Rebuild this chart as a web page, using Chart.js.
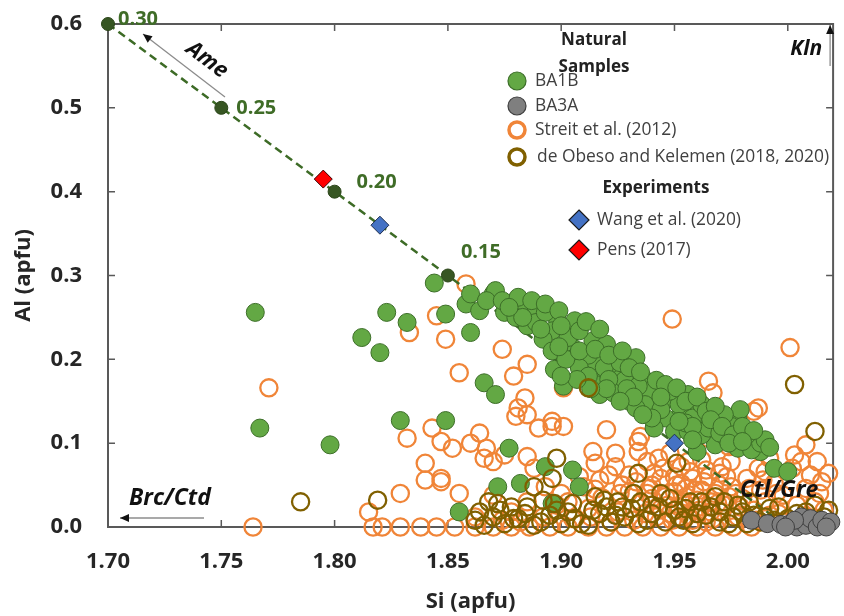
<!DOCTYPE html>
<html>
<head>
<meta charset="utf-8">
<script src="https://cdn.jsdelivr.net/npm/chart.js@4"></script>
<style>
    html, body { margin: 0; padding: 0; background: #fff; }
    #wrap { width: 844px; height: 616px; }
</style>
</head>
<body>
<div id="wrap"><canvas id="alChart" width="844" height="616"></canvas></div>
<script>
// Axis ticks
const xTicks = [1.70, 1.75, 1.80, 1.85, 1.90, 1.95, 2.00];
const yTicks = [0, 0.1, 0.2, 0.3, 0.4, 0.5, 0.6];

// Amesite - serpentine join (x = 0.30 ... 0.00)
const ameSi = [1.70, 1.75, 1.80, 1.85, 1.90, 1.95, 2.00];
const ameAl = [0.60, 0.50, 0.40, 0.30, 0.20, 0.10, 0.00];
const ameLabels = ['0.30', '0.25', '0.20', '0.15'];

// BA1B
const ba1bSi = [1.765,1.767,1.798,1.812,1.820,1.823,1.832,1.829,1.849,1.849,
    1.844,1.855,1.860,1.858,1.860,1.864,1.870,1.871,1.875,1.879,
    1.884,1.889,1.885,1.889,1.898,1.896,1.906,1.892,1.896,1.905,
    1.914,1.920,1.906,1.897,1.901,1.914,1.910,1.918,1.917,1.924,
    1.925,1.933,1.930,1.936,1.939,1.940,1.927,1.943,1.930,1.938,
    1.949,1.956,1.959,1.953,1.946,1.963,1.969,1.978,1.968,1.960,
    1.973,1.978,1.987,1.988,1.984,1.994,2.000,1.937,1.933,1.941,
    1.950,1.956,1.962,1.866,1.871,1.877,1.872,1.882,1.893,1.905,
    1.908,1.896,1.979,1.988,1.945,1.912,1.922,1.928,1.944,1.952,
    1.958,1.965,1.970,1.975,1.982,1.955,1.948,1.934,1.919,1.903,
    1.893,1.880,1.867,1.990,1.972,1.962,1.915,1.923,1.908,
    1.874,1.881,1.887,1.893,1.899,1.883,1.891,1.900,1.908,1.902,
    1.908,1.915,1.912,1.921,1.926,1.930,1.929,1.935,1.942,1.946,
    1.951,1.944,1.955,1.960,1.964,1.968,1.958,1.966,1.971,1.976,
    1.980,1.985,1.974,1.980,1.992,1.958,1.952,1.940,1.936,1.932,
    1.926,1.920,1.913,1.907,1.900,1.921,1.927,1.911,1.917,1.877,
    1.899];
const ba1bAl = [0.256,0.118,0.098,0.226,0.208,0.256,0.244,0.127,0.127,0.254,
    0.291,0.018,0.232,0.266,0.278,0.258,0.278,0.282,0.256,0.268,
    0.260,0.262,0.240,0.244,0.250,0.234,0.246,0.224,0.210,0.214,
    0.222,0.218,0.202,0.188,0.168,0.198,0.182,0.178,0.158,0.186,
    0.166,0.202,0.150,0.178,0.158,0.146,0.182,0.166,0.158,0.162,
    0.154,0.158,0.142,0.138,0.130,0.126,0.126,0.130,0.098,0.090,
    0.106,0.094,0.098,0.090,0.092,0.070,0.066,0.146,0.142,0.118,
    0.114,0.114,0.110,0.172,0.158,0.094,0.048,0.052,0.072,0.068,
    0.048,0.028,0.140,0.100,0.150,0.205,0.195,0.175,0.140,0.146,
    0.130,0.118,0.112,0.120,0.110,0.124,0.162,0.168,0.190,0.226,
    0.256,0.250,0.270,0.104,0.134,0.146,0.170,0.160,0.190,
    0.270,0.274,0.270,0.266,0.258,0.250,0.236,0.240,0.234,0.200,
    0.210,0.212,0.180,0.176,0.196,0.190,0.165,0.185,0.175,0.170,
    0.166,0.155,0.150,0.155,0.138,0.144,0.120,0.128,0.120,0.110,
    0.120,0.115,0.100,0.102,0.095,0.104,0.126,0.130,0.134,0.155,
    0.150,0.165,0.165,0.176,0.180,0.205,0.210,0.245,0.236,0.262,
    0.215];

// BA3A
const ba3aSi = [1.984,1.991,1.997,2.001,2.004,2.006,2.008,2.010,2.013,2.015,2.019,2.017,2.003,1.999];
const ba3aAl = [0.008,0.004,0.003,0.004,0.000,0.012,0.002,0.010,0.000,0.008,0.006,0.000,0.008,0.000];

// Streit et al. (2012)
const streitSi = [1.858,1.771,1.833,1.845,1.849,1.855,1.874,1.879,1.885,1.884,
    1.881,1.885,1.901,1.896,1.949,2.001,1.880,1.901,1.920,1.864,
    1.860,1.867,1.866,1.852,1.847,1.875,1.885,1.888,1.914,1.924,
    1.934,1.934,1.930,1.938,1.956,1.965,1.967,1.985,1.987,2.003,
    2.006,2.015,2.002,1.965,1.974,1.971,1.832,1.843,1.847,1.840,
    1.840,1.847,1.829,1.815,1.896,1.935,1.915,1.924,1.921,1.910,
    1.903,1.870,1.890,1.855,
    1.764,1.817,1.821,1.829,1.838,1.845,1.853,1.862,1.870,1.878,
    1.886,1.895,1.903,1.912,1.920,1.928,1.936,1.944,1.952,1.960,
    1.968,1.976,1.984,
    1.905,1.912,1.918,1.925,1.930,1.935,1.940,1.942,1.946,1.950,
    1.952,1.955,1.958,1.960,1.963,1.966,1.968,1.970,1.972,1.975,
    1.978,1.980,1.982,1.985,1.988,1.990,1.994,1.996,1.998,2.004,
    2.008,2.012,2.016,2.018,1.945,1.957,1.962,1.948,1.943,1.927,
    1.915,1.922,1.900,1.892,1.885,1.878,1.870,1.862,1.975,1.990,
    2.010,2.013,1.953,1.938,1.948,1.932,1.964,1.987,1.992,2.008,
    1.998,2.014,1.940,1.944,1.950,1.954,1.958,1.962,1.956,1.947,
    1.966,1.970,1.974,1.964,
    1.926,1.933,1.937,1.941,1.949,1.951,1.953,1.959,1.961,1.965,
    1.967,1.969,1.973,1.977,1.979,1.983,1.986,1.989,1.992,1.995,
    1.917,1.913,1.908,1.898,1.893,1.882,1.874,1.944,1.955,1.939];
const streitAl = [0.290,0.166,0.232,0.252,0.224,0.184,0.212,0.180,0.194,0.154,
    0.142,0.134,0.166,0.126,0.248,0.214,0.132,0.120,0.116,0.112,
    0.100,0.094,0.082,0.094,0.058,0.086,0.084,0.070,0.090,0.088,
    0.102,0.090,0.062,0.078,0.078,0.174,0.160,0.138,0.142,0.086,
    0.078,0.054,0.070,0.106,0.096,0.072,0.106,0.118,0.102,0.076,
    0.056,0.054,0.040,0.018,0.120,0.108,0.076,0.072,0.062,0.048,
    0.030,0.078,0.118,0.040,
    0,0,0,0,0,0,0,0,0,0,
    0,0,0,0,0,0,0,0,0,0,
    0,0,0,
    0.010,0.022,0.035,0.018,0.042,0.028,0.050,0.012,0.036,0.060,
    0.024,0.046,0.008,0.032,0.054,0.018,0.040,0.064,0.026,0.048,
    0.012,0.034,0.058,0.020,0.044,0.030,0.052,0.016,0.038,0.026,
    0.046,0.030,0.020,0.064,0.070,0.066,0.080,0.088,0.082,0.050,
    0.045,0.006,0.040,0.012,0.030,0.018,0.038,0.012,0.078,0.066,
    0.062,0.078,0.052,0.040,0.016,0.008,0.068,0.070,0.082,0.098,
    0.006,0.040,0.034,0.058,0.042,0.030,0.058,0.044,0.014,0.026,
    0.030,0.050,0.036,0.006,
    0.040,0.054,0.016,0.064,0.008,0.050,0.072,0.044,0.020,0.060,
    0.010,0.028,0.060,0.040,0.024,0.046,0.008,0.056,0.014,0.040,
    0.056,0.012,0.060,0.026,0.048,0.006,0.008,0.022,0.036,0.046];

// de Obeso and Kelemen (2018, 2020)
const obesoSi = [1.785,1.819,2.003,2.012,1.912,1.951,1.934,1.898,1.896,1.888,
    1.868,1.878,1.892,
    1.862,1.866,1.870,1.875,1.881,1.888,1.895,1.900,1.906,1.912,
    1.917,1.922,1.928,1.934,1.940,1.946,1.952,1.958,1.964,1.970,
    1.976,1.982,
    1.905,1.915,1.925,1.932,1.940,1.948,1.955,1.962,1.970,1.978,
    1.985,1.992,2.000,2.008,2.016,1.931,1.920,1.944,1.988,
    1.885,1.898,1.873,1.968,1.994,2.010,2.018,
    1.864,1.872,1.879,1.884,1.891,1.897,1.903,1.909,1.914,1.919,
    1.924,1.927,1.935,1.938,1.943,1.950,1.954,1.957,1.960,1.966,
    1.972,1.974,1.980,1.983,1.990,1.996,2.004,2.012,2.006,2.014];
const obesoAl = [0.030,0.032,0.170,0.114,0.166,0.076,0.064,0.082,0.058,0.048,
    0.030,0.024,0.032,
    0.008,0.002,0.012,0.004,0.010,0.002,0.014,0.004,0.010,0.002,
    0.016,0.006,0.012,0.004,0.016,0.006,0.012,0.004,0.014,0.006,
    0.012,0.004,
    0.028,0.036,0.030,0.040,0.026,0.034,0.022,0.030,0.018,0.026,
    0.014,0.022,0.010,0.018,0.012,0.022,0.024,0.040,0.006,
    0.024,0.020,0.020,0.036,0.008,0.004,0.020,
    0.018,0.028,0.010,0.016,0.006,0.028,0.018,0.004,0.020,0.032,
    0.014,0.024,0.030,0.008,0.024,0.020,0.008,0.030,0.016,0.024,
    0.030,0.004,0.018,0.030,0.012,0.024,0.016,0.026,0.006,0.002];

// Experiments
const wangSi = [1.82, 1.95];
const wangAl = [0.36, 0.10];
const pensSi = [1.795];
const pensAl = [0.415];

const pts = (xs, ys) => xs.map((x, i) => ({ x: x, y: ys[i] }));

const GREEN = '#63a844', GREEN_EDGE = '#3c6e28';
const GREY = '#7f7f7f', GREY_EDGE = '#3f3f3f';
const ORANGE = '#f08538', OLIVE = '#806000';
const DARK_GREEN = '#375623', LABEL_GREEN = '#3f6c27';
const FONT = "'Open Sans', 'Liberation Sans', sans-serif";

function arrow(ctx, x1, y1, x2, y2) {
    ctx.save();
    ctx.strokeStyle = '#8c8c8c';
    ctx.lineWidth = 1.3;
    ctx.beginPath();
    ctx.moveTo(x1, y1);
    ctx.lineTo(x2, y2);
    ctx.stroke();
    const a = Math.atan2(y2 - y1, x2 - x1);
    ctx.fillStyle = '#111';
    ctx.beginPath();
    ctx.moveTo(x2, y2);
    ctx.lineTo(x2 - 9 * Math.cos(a) + 4 * Math.sin(a), y2 - 9 * Math.sin(a) - 4 * Math.cos(a));
    ctx.lineTo(x2 - 9 * Math.cos(a) - 4 * Math.sin(a), y2 - 9 * Math.sin(a) + 4 * Math.cos(a));
    ctx.closePath();
    ctx.fill();
    ctx.restore();
}

function legendCircle(ctx, x, y, fill, edge, hollow) {
    ctx.beginPath();
    ctx.arc(x, y, hollow ? 8 : 9, 0, Math.PI * 2);
    if (hollow) {
        ctx.lineWidth = 3.5;
        ctx.strokeStyle = edge;
        ctx.stroke();
    } else {
        ctx.fillStyle = fill;
        ctx.fill();
        ctx.lineWidth = 1.2;
        ctx.strokeStyle = edge;
        ctx.stroke();
    }
}

function legendDiamond(ctx, x, y, fill) {
    ctx.beginPath();
    ctx.moveTo(x, y - 10);
    ctx.lineTo(x + 10, y);
    ctx.lineTo(x, y + 10);
    ctx.lineTo(x - 10, y);
    ctx.closePath();
    ctx.fillStyle = fill;
    ctx.fill();
    ctx.lineWidth = 1.2;
    ctx.strokeStyle = '#1a1a1a';
    ctx.stroke();
}

// Frame with inner ticks, labels on the join, arrows and the in-plot legend
const decorations = {
    id: 'decorations',
    beforeDatasetsDraw(chart) {
        const { ctx, chartArea: ca, scales } = chart;
        ctx.save();
        ctx.strokeStyle = '#595959';
        ctx.lineWidth = 2;
        ctx.strokeRect(ca.left, ca.top, ca.right - ca.left, ca.bottom - ca.top);
        ctx.lineWidth = 1.5;
        ctx.beginPath();
        xTicks.forEach(v => {
            const px = scales.x.getPixelForValue(v);
            ctx.moveTo(px, ca.bottom); ctx.lineTo(px, ca.bottom - 7);
            ctx.moveTo(px, ca.top); ctx.lineTo(px, ca.top + 7);
        });
        yTicks.forEach(v => {
            const py = scales.y.getPixelForValue(v);
            ctx.moveTo(ca.left, py); ctx.lineTo(ca.left + 7, py);
            ctx.moveTo(ca.right, py); ctx.lineTo(ca.right - 7, py);
        });
        ctx.stroke();
        ctx.restore();
    },
    afterDatasetsDraw(chart) {
        const { ctx, chartArea: ca } = chart;
        ctx.save();

        // composition labels along the amesite join
        const meta = chart.getDatasetMeta(0);
        const offs = [[10, -5], [15, 0], [22, -9], [13, -23]];
        ctx.fillStyle = LABEL_GREEN;
        ctx.font = 'bold 20px ' + FONT;
        ctx.textAlign = 'left';
        ctx.textBaseline = 'middle';
        ameLabels.forEach((t, i) => {
            const el = meta.data[i];
            ctx.fillText(t, el.x + offs[i][0], el.y + offs[i][1]);
        });

        // end-member arrows
        ctx.fillStyle = '#111';
        ctx.font = 'italic bold 22px ' + FONT;
        arrow(ctx, ca.left + 117, ca.top + 73, ca.left + 35, ca.top + 10);
        ctx.save();
        ctx.translate(ca.left + 99, ca.top + 36);
        ctx.rotate(0.64);
        ctx.textAlign = 'center';
        ctx.fillText('Ame', 0, 0);
        ctx.restore();

        ctx.font = 'italic bold 21px ' + FONT;
        ctx.textAlign = 'right';
        ctx.fillText('Kln', ca.right - 11, ca.top + 25);
        arrow(ctx, ca.right - 3, ca.top + 42, ca.right - 3, ca.top + 1);

        ctx.font = 'italic bold 23px ' + FONT;
        ctx.textAlign = 'left';
        ctx.fillText('Brc/Ctd', ca.left + 21, ca.bottom - 29);
        arrow(ctx, ca.left + 96, ca.bottom - 9, ca.left + 12, ca.bottom - 9);
        ctx.fillText('Ctl/Gre', ca.left + 632, ca.bottom - 37);

        // legend
        ctx.fillStyle = '#222';
        ctx.font = 'bold 17px ' + FONT;
        ctx.textAlign = 'center';
        ctx.fillText('Natural', 594, 40);
        ctx.fillText('Samples', 594, 67);
        ctx.fillText('Experiments', 656, 188);

        legendCircle(ctx, 517, 81, GREEN, GREEN_EDGE, false);
        legendCircle(ctx, 517, 106, GREY, GREY_EDGE, false);
        legendCircle(ctx, 517, 130, null, ORANGE, true);
        legendCircle(ctx, 517, 157, null, OLIVE, true);
        legendDiamond(ctx, 579, 220, '#4472c4');
        legendDiamond(ctx, 579, 250, '#ff0000');

        ctx.fillStyle = '#404040';
        ctx.font = '17.4px ' + FONT;
        ctx.textAlign = 'left';
        ctx.fillText('BA1B', 535, 81);
        ctx.fillText('BA3A', 535, 106);
        ctx.fillText('Streit et al. (2012)', 535, 130);
        ctx.fillText('de Obeso and Kelemen (2018, 2020)', 537, 157);
        ctx.fillText('Wang et al. (2020)', 597, 220);
        ctx.fillText('Pens (2017)', 597, 250);
        ctx.restore();
    }
};

const ctx = document.getElementById('alChart').getContext('2d');
new Chart(ctx, {
    type: 'scatter',
    data: {
        datasets: [
            {
                label: 'Amesite join',
                data: pts(ameSi, ameAl),
                showLine: true,
                borderColor: '#3d6b26',
                borderWidth: 2.5,
                borderDash: [8, 5],
                pointRadius: 6.5,
                pointBackgroundColor: DARK_GREEN,
                pointBorderColor: '#2b4519',
                pointBorderWidth: 1,
                clip: false,
                order: 4
            },
            {
                label: 'Streit et al. (2012)',
                data: pts(streitSi, streitAl),
                pointRadius: 8.6,
                pointBackgroundColor: 'rgba(255,255,255,0)',
                pointBorderColor: ORANGE,
                pointBorderWidth: 2.3,
                clip: false,
                order: 5
            },
            {
                label: 'BA1B',
                data: pts(ba1bSi, ba1bAl),
                pointRadius: 9,
                pointBackgroundColor: GREEN,
                pointBorderColor: GREEN_EDGE,
                pointBorderWidth: 1,
                clip: false,
                order: 3
            },
            {
                label: 'de Obeso and Kelemen (2018, 2020)',
                data: pts(obesoSi, obesoAl),
                pointRadius: 8.6,
                pointBackgroundColor: 'rgba(255,255,255,0)',
                pointBorderColor: OLIVE,
                pointBorderWidth: 2.3,
                clip: false,
                order: 2
            },
            {
                label: 'BA3A',
                data: pts(ba3aSi, ba3aAl),
                pointRadius: 9,
                pointBackgroundColor: GREY,
                pointBorderColor: GREY_EDGE,
                pointBorderWidth: 1,
                clip: false,
                order: 1
            },
            {
                label: 'Wang et al. (2020)',
                data: pts(wangSi, wangAl),
                pointStyle: 'rectRot',
                pointRadius: 9,
                pointBackgroundColor: '#4472c4',
                pointBorderColor: '#1f2f4f',
                pointBorderWidth: 1,
                clip: false,
                order: 0
            },
            {
                label: 'Pens (2017)',
                data: pts(pensSi, pensAl),
                pointStyle: 'rectRot',
                pointRadius: 9,
                pointBackgroundColor: '#ff0000',
                pointBorderColor: '#3a0000',
                pointBorderWidth: 1,
                clip: false,
                order: 0
            }
        ]
    },
    options: {
        responsive: false,
        animation: false,
        devicePixelRatio: 1,
        layout: { padding: { top: 24, right: 6, left: 0, bottom: 0 } },
        plugins: {
            legend: { display: false },
            tooltip: { enabled: false }
        },
        scales: {
            x: {
                type: 'linear',
                min: 1.70,
                max: 2.02,
                afterBuildTicks: s => { s.ticks = xTicks.map(v => ({ value: v })); },
                afterFit: s => { s.height = 89; s.paddingLeft = 0; s.paddingRight = 0; },
                grid: { display: false, drawTicks: false },
                border: { display: false },
                ticks: {
                    autoSkip: false,
                    maxRotation: 0,
                    padding: 22,
                    color: '#262626',
                    font: { family: FONT, size: 22, weight: 'bold' },
                    callback: v => Number(v).toFixed(2)
                },
                title: {
                    display: true,
                    text: 'Si (apfu)',
                    color: '#262626',
                    font: { family: FONT, size: 22, weight: 'bold' },
                    padding: { top: 0, bottom: 1 }
                }
            },
            y: {
                type: 'linear',
                min: 0,
                max: 0.6,
                afterBuildTicks: s => { s.ticks = yTicks.map(v => ({ value: v })); },
                afterFit: s => { s.width = 108; s.paddingTop = 0; s.paddingBottom = 0; },
                grid: { display: false, drawTicks: false },
                border: { display: false },
                ticks: {
                    autoSkip: false,
                    padding: 26,
                    color: '#262626',
                    font: { family: FONT, size: 22, weight: 'bold' },
                    callback: v => Number(v).toFixed(1)
                },
                title: {
                    display: true,
                    text: 'Al (apfu)',
                    color: '#262626',
                    font: { family: FONT, size: 22, weight: 'bold' },
                    padding: { top: 11, bottom: 0 }
                }
            }
        }
    },
    plugins: [decorations]
});
</script>
</body>
</html>
